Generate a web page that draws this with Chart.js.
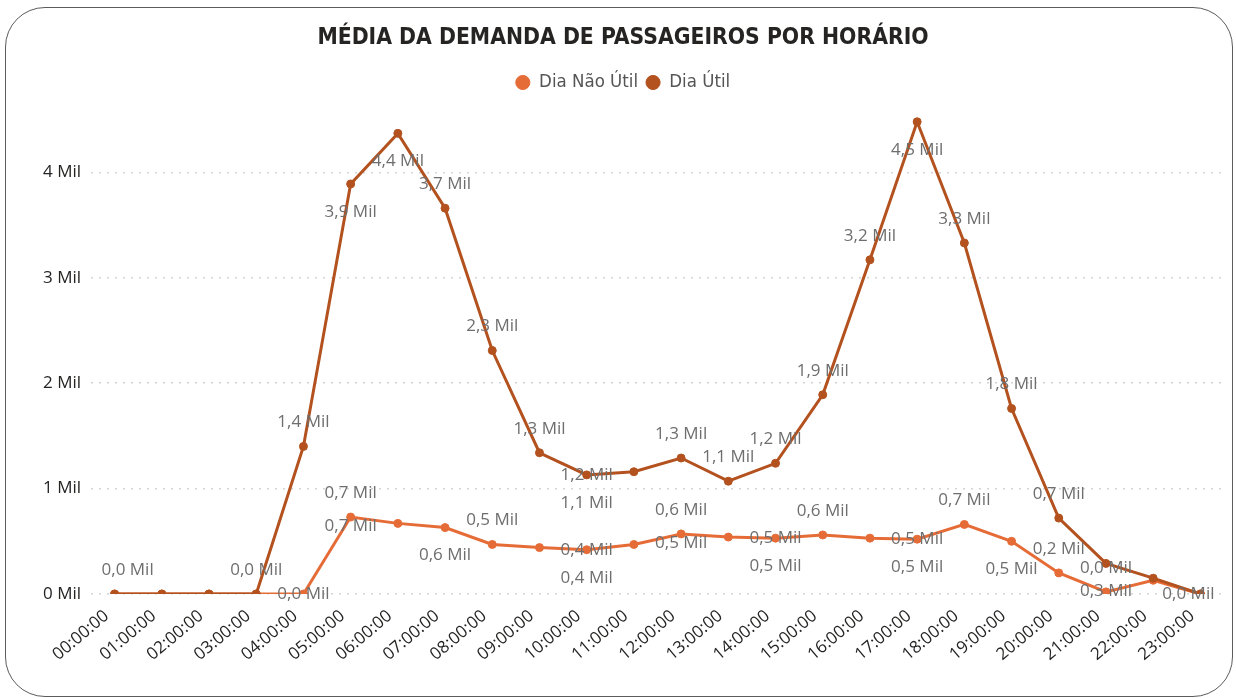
<!DOCTYPE html>
<html lang="pt-BR">
<head>
<meta charset="utf-8">
<title>Média da demanda de passageiros por horário</title>
<script src="https://cdn.jsdelivr.net/npm/chart.js@4/dist/chart.umd.min.js"></script>
<style>
  html, body { margin: 0; background: #fff; }
  #card {
    position: absolute; left: 5px; top: 7px;
    width: 1228px; height: 690px; box-sizing: border-box;
    border: 1.5px solid #5c5c5c; border-radius: 40px;
  }
  #demandaChart { position: absolute; left: 0; top: 0; }
</style>
</head>
<body>
<div id="card"></div>
<canvas id="demandaChart" width="1236" height="698"></canvas>
<script>
// Horários e média de passageiros por hora
const horarios = [
  "00:00:00", "01:00:00", "02:00:00", "03:00:00", "04:00:00", "05:00:00",
  "06:00:00", "07:00:00", "08:00:00", "09:00:00", "10:00:00", "11:00:00",
  "12:00:00", "13:00:00", "14:00:00", "15:00:00", "16:00:00", "17:00:00",
  "18:00:00", "19:00:00", "20:00:00", "21:00:00", "22:00:00", "23:00:00"
];
const diaNaoUtil = [0, 0, 0, 0, 0, 730, 670, 630, 470, 440, 420, 470,
                    570, 540, 530, 560, 530, 520, 660, 500, 200, 20, 130, 0];
const diaUtil = [0, 0, 0, 0, 1400, 3890, 4370, 3660, 2310, 1340, 1130, 1160,
                 1290, 1070, 1240, 1890, 3170, 4480, 3330, 1760, 720, 290, 150, 0];
const escalaY = [0, 1000, 2000, 3000, 4000];

// Rótulos de dados: [índice do valor, posição, índice onde desenhar]
const rotulosUtil = [
  [0, "ar"], [3, "a"], [4, "a"], [5, "b"], [6, "b"], [7, "a"], [8, "a"], [9, "a"],
  [10, "b"], [11, "c", 10], [12, "a"], [13, "a"], [14, "a"], [15, "a"], [16, "a"],
  [17, "b"], [18, "a"], [19, "a"], [20, "a"], [21, "b"], [23, "cl"]
];
const rotulosNaoUtil = [
  [4, "c"], [5, "a"], [6, "m", 5], [7, "b"], [8, "a"], [10, "c"], [9, "b", 10],
  [12, "a"], [11, "m", 12], [14, "c"], [13, "b", 14], [15, "a"], [17, "c"],
  [16, "b", 17], [18, "a"], [19, "b"], [20, "a"], [21, "a"]
];

const corNaoUtil = "#E66C37";
const corUtil = "#B3521F";
const fonteCondensada = "'DejaVu Sans Condensed', 'Liberation Sans Narrow', sans-serif";

const fmtMil = v => (v / 1000).toFixed(1).replace(".", ",") + " Mil";
// [dx, dy] de cada posição de rótulo em relação ao ponto
const deslocamento = {
  a: [0, -24], b: [0, 28], c: [0, 0], m: [0, 9], ar: [13, -24], cl: [-12, 0]
};

const rotulosPlugin = {
  id: "rotulos",
  afterDatasetsDraw(chart) {
    const { ctx, scales: { x, y } } = chart;
    ctx.save();
    ctx.font = "17px 'Open Sans'";
    ctx.fillStyle = "#6e6e6e";
    ctx.textAlign = "center";
    ctx.textBaseline = "middle";
    chart.data.datasets.forEach(ds => {
      ds.rotulos.forEach(([i, pos, at = i]) => {
        const [dx, dy] = deslocamento[pos];
        ctx.fillText(fmtMil(ds.data[i]), x.getPixelForValue(at) + dx,
                     y.getPixelForValue(ds.data[at]) + dy);
      });
    });
    ctx.restore();
  }
};

const serie = (label, data, cor, rotulos) => ({
  label, data, rotulos,
  borderColor: cor, backgroundColor: cor,
  pointBackgroundColor: cor, pointBorderColor: cor,
  borderWidth: 3, pointRadius: 4, pointBorderWidth: 1, pointHoverRadius: 4, tension: 0
});

new Chart(document.getElementById("demandaChart"), {
  type: "line",
  data: {
    labels: horarios,
    // Dia Útil primeiro para ficar por cima da outra linha
    datasets: [
      serie("Dia Útil", diaUtil, corUtil, rotulosUtil),
      serie("Dia Não Útil", diaNaoUtil, corNaoUtil, rotulosNaoUtil)
    ]
  },
  options: {
    responsive: false,
    animation: false,
    layout: { padding: { left: 22, right: 12, top: 0, bottom: 14 } },
    plugins: {
      title: {
        display: true,
        text: "MÉDIA DA DEMANDA DE PASSAGEIROS POR HORÁRIO",
        color: "#252423",
        font: { family: fonteCondensada, size: 22.7, weight: "bold", lineHeight: 1.2 },
        padding: { top: 24, bottom: 14 }
      },
      legend: {
        labels: {
          usePointStyle: true,
          pointStyle: "circle",
          boxWidth: 14,
          boxHeight: 10,
          padding: 8,
          color: "#555555",
          font: { family: fonteCondensada, size: 18.5 },
          sort: (a, b) => b.datasetIndex - a.datasetIndex
        }
      },
      tooltip: { enabled: false }
    },
    scales: {
      x: {
        offset: true,
        grid: { display: false },
        border: { display: false },
        afterFit: s => { s.height = 90; },
        ticks: {
          autoSkip: false, minRotation: 40, maxRotation: 40, padding: 4, labelOffset: -8,
          color: "#252423", font: { family: "'Open Sans'", size: 17 }
        }
      },
      y: {
        min: 0,
        max: 4670,
        afterFit: s => { s.width = 69; },
        afterBuildTicks: s => { s.ticks = escalaY.map(v => ({ value: v })); },
        grid: { color: "#d4d4d4", lineWidth: 1.5, drawTicks: false },
        border: { display: false, dash: [2, 6] },
        ticks: {
          padding: 10,
          color: "#252423",
          font: { family: "'Open Sans'", size: 17 },
          callback: v => (v / 1000) + " Mil"
        }
      }
    }
  },
  plugins: [rotulosPlugin]
});
</script>
</body>
</html>
